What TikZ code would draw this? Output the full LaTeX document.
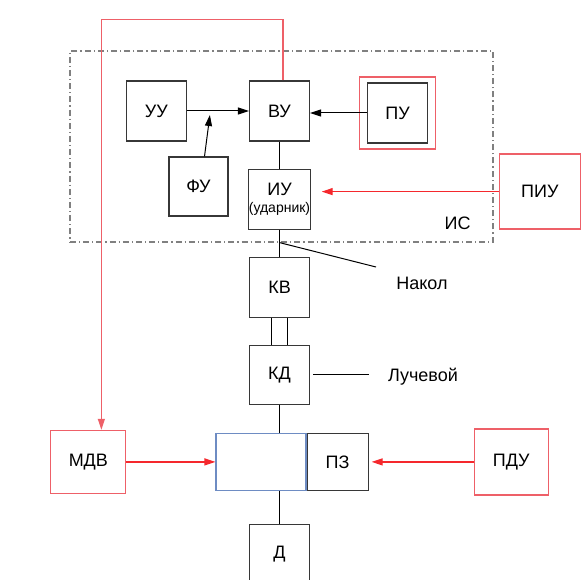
\documentclass[tikz,border=0pt]{standalone}
\usepackage{fontspec}
\setmainfont{Liberation Sans}
\usetikzlibrary{arrows.meta,positioning,calc}
\definecolor{boxred}{RGB}{238,96,104}
\definecolor{arrred}{RGB}{245,40,45}
\definecolor{zoneblue}{RGB}{110,140,195}
\definecolor{boxgray}{RGB}{55,55,55}

\begin{document}
\begin{tikzpicture}[x=1pt,y=1pt,font=\fontsize{18}{21}\selectfont,>={Triangle[length=11pt,width=7pt]},
 blk/.style={draw=boxgray,line width=1.1pt,inner sep=0pt,minimum width=60pt,minimum height=60pt},
 rbox/.style={draw=boxred,line width=1.2pt,inner sep=0pt},
 frame/.style={draw=gray,line width=1.2pt,dash pattern=on 6pt off 3pt on 1.2pt off 3pt},
 ln/.style={line width=1pt},
 arr/.style={->,line width=1pt},
 rarr/.style={->,line width=1.2pt,color=arrred}]

\useasboundingbox (0,0) rectangle (581,579);

\node[frame,minimum width=423pt,minimum height=191pt,inner sep=0pt] (is) at (281.5,432.5) {};
\node (islbl) at ([xshift=-36pt,yshift=19pt]is.south east) {ИС};

\node[blk] (vu) at (279.5,468) {ВУ};
\node[blk,left=62pt of vu] (uu) {УУ};
\node[blk,right=57pt of vu,yshift=-2pt] (pu) {ПУ};
\node[rbox,minimum width=76pt,minimum height=72pt] (puframe) at (pu) {};
\node[blk,minimum width=59pt,minimum height=59pt] (fu) at (198.5,392.5) {ФУ};
\node[blk,below=27pt of vu,align=center] (iu) {ИУ\\[-4pt]{\fontsize{14}{15}\selectfont(ударник)}};
\node[rbox,minimum width=81pt,minimum height=75pt,right=188pt of iu,yshift=7.5pt] (piu) {ПИУ};

\node[blk,below=27pt of iu] (kv) {КВ};
\node[blk,below=27pt of kv,minimum height=59pt] (kd) {КД};
\node (nakol) at (422,296) {Накол};
\node (luch) at (423,202) {Лучевой};

\node[draw=zoneblue,line width=1.1pt,inner sep=0pt,minimum width=90pt,minimum height=57pt,below=28pt of kd,xshift=-18.5pt] (zone) {};
\node[blk,minimum width=61pt,minimum height=57pt,right=0pt of zone] (pz) {ПЗ};
\node[blk,minimum height=59pt,below=33pt of zone,xshift=18.5pt] (d) {Д};
\node[rbox,minimum width=75pt,minimum height=63pt,left=89pt of zone] (mdv) {МДВ};
\node[rbox,minimum width=74pt,minimum height=66pt,right=105pt of pz] (pdu) {ПДУ};

% links inside IS
\draw[arr] (uu) -- (vu);
\coordinate (fuin) at ($(uu.east)!.37!(vu.west)+(0,-4pt)$);
\draw[arr] ([xshift=6pt]fu.north) -- (fuin);
\draw[arr] (pu.west) -- (pu.west -| vu.east);
\draw[ln] (vu) -- (iu);
\draw[rarr,shorten >=11pt] (piu.west) -- (piu.west -| iu.east);

% main chain
\draw[ln] (iu) -- (kv);
\coordinate (nakolfrom) at (iu.south |- is.south);
\draw[ln] (nakolfrom) -- ([xshift=-46pt,yshift=16pt]nakol.center);
\draw[ln] ([xshift=-8pt]kv.south) -- ([xshift=-8pt]kd.north);
\draw[ln] ([xshift=8pt]kv.south) -- ([xshift=8pt]kd.north);
\draw[ln] ([xshift=3pt]kd.east) -- ++(56pt,0);
\draw[ln] (kd.south) -- (kd.south |- zone.north);
\draw[ln] (zone.south -| d.north) -- (d.north);

% red inputs
\draw[rarr] (mdv) -- (zone);
\draw[rarr,shorten >=3pt] (pdu) -- (pz);
\draw[->,line width=1.2pt,color=boxred] ([xshift=3.5pt]vu.north) -- ++(0,61pt) -| ([xshift=13pt]mdv.north);

\end{tikzpicture}
\end{document}
